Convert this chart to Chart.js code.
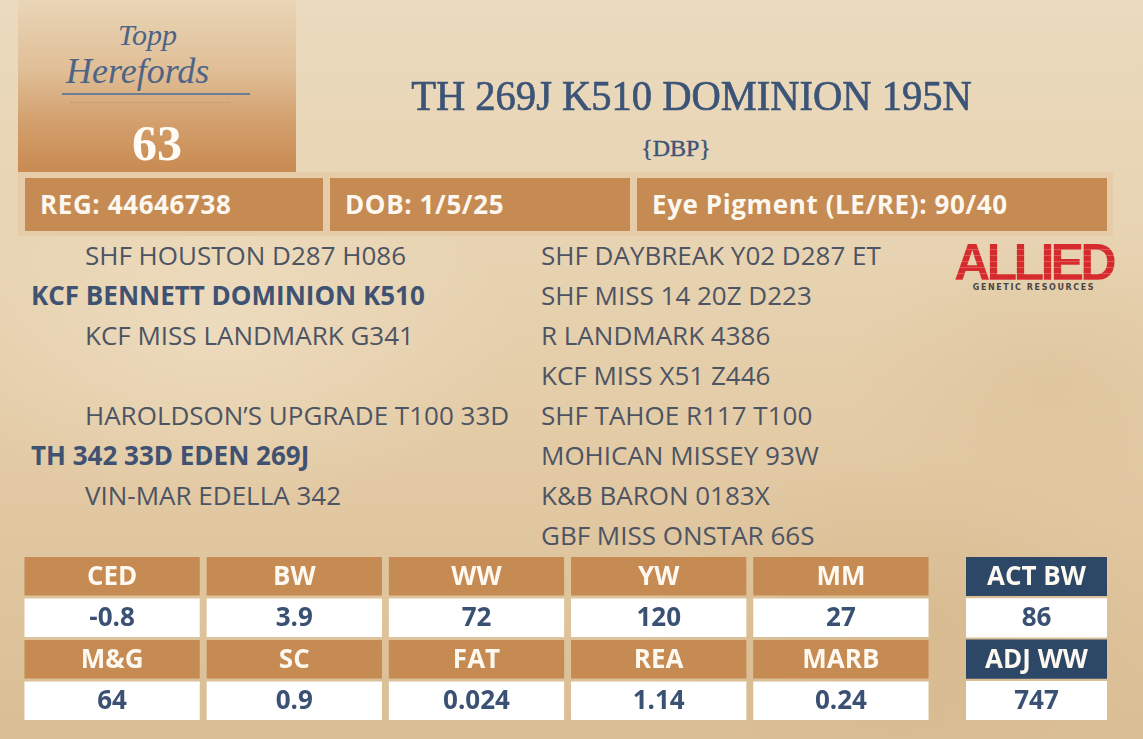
<!DOCTYPE html>
<html>
<head>
<meta charset="utf-8">
<script src="https://cdn.jsdelivr.net/npm/chart.js@4/dist/chart.umd.min.js"></script>
<style>
  html, body { margin: 0; padding: 0; }
  body {
    width: 1143px; height: 739px; overflow: hidden; position: relative;
    background:
      radial-gradient(ellipse 420px 260px at 220px 330px, rgba(244,230,206,0.5), rgba(244,230,206,0) 70%),
      radial-gradient(ellipse 380px 240px at 900px 620px, rgba(205,170,122,0.35), rgba(205,170,122,0) 70%),
      radial-gradient(ellipse 300px 200px at 1050px 380px, rgba(214,184,140,0.35), rgba(214,184,140,0) 70%),
      linear-gradient(180deg, #ebdabe 0%, #e7d3b1 35%, #e2c9a3 65%, #dabe95 100%);
    font-family: "Open Sans", "Noto Sans", sans-serif;
  }
  .abs { position: absolute; }
  #logoBox {
    left: 18px; top: 0; width: 278px; height: 172px;
    background: linear-gradient(180deg, #e9d5b7 0%, #e0bf97 40%, #d19c68 75%, #c98a53 100%);
  }
  #lotNo {
    left: 18px; width: 278px; top: 114px; height: 52px; line-height: 52px; text-align: center;
    font: bold 50px "Liberation Serif", serif; color: #fffcf6;
  }
  .logoTxt { font-family: "Liberation Serif", serif; font-style: italic; color: #4e6486; white-space: nowrap; }
  #title {
    left: 300px; width: 783px; top: 72px; line-height: 50px; text-align: center;
    font: 42px "Liberation Serif", serif; color: #3c5477; white-space: nowrap;
    -webkit-text-stroke: 0.7px #3c5477; transform: scaleX(0.965);
  }
  #tag {
    left: 576px; width: 200px; top: 135px; line-height: 30px; text-align: center;
    font: 24px "Liberation Serif", serif; color: #3c5477; -webkit-text-stroke: 0.4px #3c5477;
  }
  #infoBar {
    left: 18px; top: 172px; width: 1095px; height: 64px; background: #e6cca8;
  }
  .info {
    position: absolute; top: 6px; height: 53px; background: #c68a53;
    color: #fcf7ef; font-weight: bold; font-size: 26px; line-height: 53px;
    padding-left: 15px; box-sizing: border-box; white-space: nowrap; letter-spacing: 0.6px;
  }
  .ped { position: absolute; font-size: 26px; line-height: 40px; white-space: nowrap; color: #4d5463; }
  .ped.bold { font-weight: bold; color: #3f5272; }
  #allied {
    left: 954px; top: 232px; width: 220px; height: 52px; line-height: 52px;
    font: bold 52px "Liberation Sans", sans-serif; color: #d62b2c;
    transform-origin: left top; transform: scaleX(0.97); letter-spacing: -4px;
    background: repeating-linear-gradient(180deg, #d62b2c 0 5px, #e0585a 5px 6px);
    -webkit-background-clip: text; background-clip: text; -webkit-text-fill-color: transparent;
  }
  #alliedSub {
    left: 958px; top: 283px; width: 152px; text-align: center;
    font: bold 8px "DejaVu Sans", sans-serif; color: #4a4646; letter-spacing: 1.6px;
  }
  canvas { position: absolute; }
</style>
</head>
<body>
<div id="logoBox" class="abs"></div>
<div class="abs logoTxt" style="left:118px;top:18px;font-size:30px;">Topp</div>
<div class="abs logoTxt" style="left:66px;top:50px;font-size:36px;">Herefords</div>
<div class="abs" style="left:62px;top:93px;width:188px;height:2px;background:#6c7c95;"></div>
<div class="abs" style="left:70px;top:102px;width:160px;border-top:1px dotted #a89a8a;"></div>
<div id="lotNo" class="abs">63</div>

<div id="title" class="abs">TH 269J K510 DOMINION 195N</div>
<div id="tag" class="abs">{DBP}</div>

<div id="infoBar" class="abs"></div>
<div id="ped"></div>

<div id="allied" class="abs">ALLIED</div>
<div id="alliedSub" class="abs">GENETIC RESOURCES</div>

<canvas id="epd" style="left:21px;top:557px;" width="911" height="163"></canvas>
<canvas id="wt" style="left:966px;top:557px;" width="141" height="163"></canvas>

<script>
// info bar
const infoText = ["REG: 44646738", "DOB: 1/5/25", "Eye Pigment (LE/RE): 90/40"];
const infoLeft = [7, 312, 619];
const infoWidth = [298, 300, 470];

// pedigree, top to bottom
const pedLeft = [
  "SHF HOUSTON D287 H086",
  "KCF BENNETT DOMINION K510",
  "KCF MISS LANDMARK G341",
  "",
  "HAROLDSON\u2019S UPGRADE T100 33D",
  "TH 342 33D EDEN 269J",
  "VIN-MAR EDELLA 342"
];
const pedLeftBold = [false, true, false, false, false, true, false];
const pedRight = [
  "SHF DAYBREAK Y02 D287 ET",
  "SHF MISS 14 20Z D223",
  "R LANDMARK 4386",
  "KCF MISS X51 Z446",
  "SHF TAHOE R117 T100",
  "MOHICAN MISSEY 93W",
  "K&B BARON 0183X",
  "GBF MISS ONSTAR 66S"
];

// EPDs
const epdHead1 = ["CED", "BW", "WW", "YW", "MM"];
const epdVal1 = [-0.8, 3.9, 72, 120, 27];
const epdHead2 = ["M&G", "SC", "FAT", "REA", "MARB"];
const epdVal2 = [64, 0.9, 0.024, 1.14, 0.24];
const wtHead = ["ACT BW", "ADJ WW"];
const wtVal = [86, 747];

const bar = document.getElementById("infoBar");
infoText.forEach((t, i) => {
  const d = document.createElement("div");
  d.className = "info";
  d.style.left = infoLeft[i] + "px";
  d.style.width = infoWidth[i] + "px";
  d.textContent = t;
  bar.appendChild(d);
});

const ped = document.getElementById("ped");
pedLeft.forEach((t, i) => {
  if (!t) return;
  const d = document.createElement("div");
  d.className = "ped" + (pedLeftBold[i] ? " bold" : "");
  d.style.left = (pedLeftBold[i] ? 31 : 85) + "px";
  d.style.top = (235 + i * 40) + "px";
  d.textContent = t;
  ped.appendChild(d);
});
pedRight.forEach((t, i) => {
  const d = document.createElement("div");
  d.className = "ped";
  d.style.left = "541px";
  d.style.top = (235 + i * 40) + "px";
  d.textContent = t;
  ped.appendChild(d);
});

// writes each cell's text in the middle of its bar
const cellText = {
  id: "cellText",
  afterDatasetsDraw(chart) {
    const ctx = chart.ctx;
    ctx.save();
    ctx.font = 'bold 26px "Open Sans"';
    ctx.textAlign = "center";
    ctx.textBaseline = "middle";
    chart.data.datasets.forEach((ds, i) => {
      chart.getDatasetMeta(i).data.forEach((b, j) => {
        ctx.fillStyle = ds.ink;
        ctx.fillText(String(ds.texts[j]), b.x, (b.y + b.base) / 2 + 1);
      });
    });
    ctx.restore();
  }
};

const BROWN = "#c68a53", NAVY = "#2d4767", WHITE = "#ffffff";
const VAL_INK = "#3b5173", HEAD_INK = "#fdf8f0";

function row(r, texts, fill, ink, catPct) {
  return {
    data: texts.map(() => [r, r + 0.93]),
    texts: texts, ink: ink,
    backgroundColor: fill, borderWidth: 0,
    grouped: false, barPercentage: 1, categoryPercentage: catPct
  };
}

function table(id, labels, rows, catPct) {
  return new Chart(document.getElementById(id), {
    type: "bar",
    data: {
      labels: labels,
      datasets: rows.map((r, i) => row(i, r[0], r[1], r[2], catPct))
    },
    options: {
      responsive: false,
      animation: false,
      layout: { padding: 0 },
      plugins: { legend: { display: false }, tooltip: { enabled: false } },
      scales: {
        x: { display: false },
        y: { display: false, reverse: true, min: 0, max: 3.93 }
      }
    },
    plugins: [cellText]
  });
}

table("epd", epdHead1, [
  [epdHead1, BROWN, HEAD_INK],
  [epdVal1, WHITE, VAL_INK],
  [epdHead2, BROWN, HEAD_INK],
  [epdVal2, WHITE, VAL_INK]
], 0.962);

table("wt", ["weights"], [
  [[wtHead[0]], NAVY, HEAD_INK],
  [[wtVal[0]], WHITE, VAL_INK],
  [[wtHead[1]], NAVY, HEAD_INK],
  [[wtVal[1]], WHITE, VAL_INK]
], 1);
</script>
</body>
</html>
